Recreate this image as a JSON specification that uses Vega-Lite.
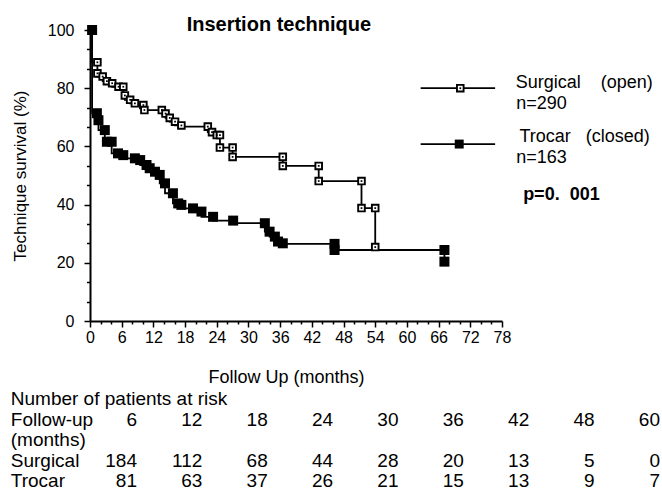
{
  "$schema": "https://vega.github.io/schema/vega-lite/v6.json",
  "width": 412,
  "height": 291,
  "autosize": {"type": "none"},
  "padding": {"left": 90, "top": 30, "right": 160, "bottom": 169},
  "background": "white",
  "config": {
    "view": {"stroke": null},
    "font": "Liberation Sans",
    "axis": {
      "domainColor": "black", "domainWidth": 2, "tickColor": "black", "tickWidth": 1.5,
      "labelColor": "black", "labelFont": "Liberation Sans", "labelFontSize": 16,
      "titleColor": "black", "titleFont": "Liberation Sans", "titleFontSize": 17, "titleFontWeight": "normal",
      "grid": false, "labelOverlap": false, "labelFlush": false, "labelBound": false
    },
    "text": {"font": "Liberation Sans", "color": "black"}
  },
  "datasets": {
    "km": [
      {"group": "Surgical", "t": 0.4, "s": 100},
      {"group": "Surgical", "t": 1.4, "s": 88.9},
      {"group": "Surgical", "t": 1.4, "s": 85.1},
      {"group": "Surgical", "t": 2.4, "s": 84.0},
      {"group": "Surgical", "t": 3.2, "s": 82.4},
      {"group": "Surgical", "t": 4.2, "s": 81.7},
      {"group": "Surgical", "t": 5.4, "s": 80.5},
      {"group": "Surgical", "t": 6.3, "s": 80.5},
      {"group": "Surgical", "t": 6.6, "s": 77.5},
      {"group": "Surgical", "t": 7.6, "s": 76.0},
      {"group": "Surgical", "t": 8.5, "s": 74.8},
      {"group": "Surgical", "t": 10.1, "s": 74.2},
      {"group": "Surgical", "t": 10.3, "s": 72.5},
      {"group": "Surgical", "t": 13.6, "s": 72.5},
      {"group": "Surgical", "t": 14.3, "s": 71.3},
      {"group": "Surgical", "t": 15.1, "s": 69.8},
      {"group": "Surgical", "t": 16.1, "s": 68.5},
      {"group": "Surgical", "t": 17.3, "s": 67.2},
      {"group": "Surgical", "t": 22.3, "s": 66.8},
      {"group": "Surgical", "t": 23.1, "s": 64.9},
      {"group": "Surgical", "t": 24.0, "s": 63.9},
      {"group": "Surgical", "t": 24.6, "s": 63.9},
      {"group": "Surgical", "t": 24.6, "s": 59.6},
      {"group": "Surgical", "t": 27.0, "s": 59.6},
      {"group": "Surgical", "t": 27.0, "s": 56.4},
      {"group": "Surgical", "t": 36.5, "s": 56.4},
      {"group": "Surgical", "t": 36.5, "s": 53.3},
      {"group": "Surgical", "t": 43.3, "s": 53.3},
      {"group": "Surgical", "t": 43.3, "s": 48.1},
      {"group": "Surgical", "t": 51.4, "s": 48.1},
      {"group": "Surgical", "t": 51.4, "s": 38.8},
      {"group": "Surgical", "t": 54.0, "s": 38.8},
      {"group": "Surgical", "t": 54.0, "s": 25.4},
      {"group": "Trocar", "t": 0.4, "s": 100},
      {"group": "Trocar", "t": 1.3, "s": 71.4},
      {"group": "Trocar", "t": 1.6, "s": 69.0},
      {"group": "Trocar", "t": 2.8, "s": 65.6},
      {"group": "Trocar", "t": 3.2, "s": 61.6},
      {"group": "Trocar", "t": 4.1, "s": 61.6},
      {"group": "Trocar", "t": 5.3, "s": 57.6},
      {"group": "Trocar", "t": 6.3, "s": 57.0},
      {"group": "Trocar", "t": 8.5, "s": 55.9},
      {"group": "Trocar", "t": 9.5, "s": 55.3},
      {"group": "Trocar", "t": 10.7, "s": 53.6},
      {"group": "Trocar", "t": 11.3, "s": 52.5},
      {"group": "Trocar", "t": 12.3, "s": 51.3},
      {"group": "Trocar", "t": 13.2, "s": 50.2},
      {"group": "Trocar", "t": 14.2, "s": 47.3},
      {"group": "Trocar", "t": 15.7, "s": 43.9},
      {"group": "Trocar", "t": 16.7, "s": 40.4},
      {"group": "Trocar", "t": 17.3, "s": 39.9},
      {"group": "Trocar", "t": 19.5, "s": 38.7},
      {"group": "Trocar", "t": 21.1, "s": 37.6},
      {"group": "Trocar", "t": 23.3, "s": 35.8},
      {"group": "Trocar", "t": 27.1, "s": 34.5},
      {"group": "Trocar", "t": 33.1, "s": 33.6},
      {"group": "Trocar", "t": 34.0, "s": 30.7},
      {"group": "Trocar", "t": 35.0, "s": 29.0},
      {"group": "Trocar", "t": 35.6, "s": 27.3},
      {"group": "Trocar", "t": 36.5, "s": 26.7},
      {"group": "Trocar", "t": 46.3, "s": 26.5},
      {"group": "Trocar", "t": 46.3, "s": 24.4},
      {"group": "Trocar", "t": 67.1, "s": 24.4},
      {"group": "Trocar", "t": 67.1, "s": 20.4}
    ],
    "risk": [
      {"fu": 6, "surgical": 184, "trocar": 81},
      {"fu": 12, "surgical": 112, "trocar": 63},
      {"fu": 18, "surgical": 68, "trocar": 37},
      {"fu": 24, "surgical": 44, "trocar": 26},
      {"fu": 30, "surgical": 28, "trocar": 21},
      {"fu": 36, "surgical": 20, "trocar": 15},
      {"fu": 42, "surgical": 13, "trocar": 13},
      {"fu": 48, "surgical": 5, "trocar": 9},
      {"fu": 60, "surgical": 0, "trocar": 7}
    ],
    "one": [{"k": 1}]
  },
  "layer": [
    {
      "resolve": {"axis": {"x": "independent", "y": "independent"}},
      "layer": [
        {
          "data": {"name": "km"},
          "mark": {"type": "line", "interpolate": "step-before", "color": "black", "strokeWidth": 1.8},
          "encoding": {
            "x": {
              "field": "t", "type": "quantitative",
              "scale": {"domain": [0, 78], "nice": false, "zero": false},
              "axis": {
                "title": "Follow Up (months)",
                "values": [0,2,4,6,8,10,12,14,16,18,20,22,24,26,28,30,32,34,36,38,40,42,44,46,48,50,52,54,56,58,60,62,64,66,68,70,72,74,76,78],
                "labelExpr": "datum.value % 6 === 0 ? datum.label : ''",
                "tickSize": {"condition": {"test": "datum.value % 6 === 0", "value": 6}, "value": 3},
                "labelPadding": 2, "labelOverlap": false, "orient": "bottom",
                "titleFontSize": 18,
                "titleX": 196, "titleY": 61, "titleBaseline": "alphabetic", "titleAlign": "center"
              }
            },
            "y": {
              "field": "s", "type": "quantitative",
              "scale": {"domain": [0, 100], "nice": false, "zero": false},
              "axis": {
                "title": "Technique survival (%)",
                "values": [0,6.6667,13.3333,20,26.6667,33.3333,40,46.6667,53.3333,60,66.6667,73.3333,80,86.6667,93.3333,100],
                "labelExpr": "round(datum.value) % 20 === 0 ? datum.label : ''",
                "tickSize": {"condition": {"test": "round(datum.value) % 20 === 0", "value": 6}, "value": 3.5},
                "labelPadding": 10, "labelOverlap": false, "orient": "left",
                "titleX": -70, "titleY": 145.5, "titleAngle": -90, "titleBaseline": "middle", "titleAlign": "center"
              }
            },
            "detail": {"field": "group"}
          }
        },
        {
          "data": {"name": "km"},
          "transform": [{"filter": "datum.group === 'Surgical'"}],
          "mark": {"type": "point", "shape": "square", "filled": true, "fill": "white", "stroke": "black", "strokeWidth": 1.9, "size": 44, "opacity": 1},
          "encoding": {"x": {"field": "t", "type": "quantitative", "axis": null}, "y": {"field": "s", "type": "quantitative", "axis": null}}
        },
        {
          "data": {"name": "km"},
          "transform": [{"filter": "datum.group === 'Surgical'"}],
          "mark": {"type": "point", "shape": "square", "filled": true, "color": "black", "size": 3, "opacity": 1},
          "encoding": {"x": {"field": "t", "type": "quantitative", "axis": null}, "y": {"field": "s", "type": "quantitative", "axis": null}}
        },
        {
          "data": {"name": "km"},
          "transform": [{"filter": "datum.group === 'Trocar'"}],
          "mark": {"type": "point", "shape": "square", "filled": true, "color": "black", "size": 100, "opacity": 1},
          "encoding": {"x": {"field": "t", "type": "quantitative", "axis": null}, "y": {"field": "s", "type": "quantitative", "axis": null}}
        },
        {
          "data": {"name": "one"},
          "mark": {"type": "rule", "color": "black", "strokeWidth": 1.8},
          "encoding": {"x": {"datum": 62.6, "type": "quantitative", "axis": null}, "x2": {"datum": 76.7}, "y": {"datum": 80.0, "type": "quantitative", "axis": null}}
        },
        {
          "data": {"name": "one"},
          "mark": {"type": "rule", "color": "black", "strokeWidth": 1.8},
          "encoding": {"x": {"datum": 62.6, "type": "quantitative", "axis": null}, "x2": {"datum": 76.7}, "y": {"datum": 60.8, "type": "quantitative", "axis": null}}
        },
        {
          "data": {"name": "one"},
          "mark": {"type": "point", "shape": "square", "filled": true, "fill": "white", "stroke": "black", "strokeWidth": 1.9, "size": 44, "opacity": 1},
          "encoding": {"x": {"datum": 70.1, "type": "quantitative", "axis": null}, "y": {"datum": 80.0, "type": "quantitative", "axis": null}}
        },
        {
          "data": {"name": "one"},
          "mark": {"type": "point", "shape": "square", "filled": true, "color": "black", "size": 3, "opacity": 1},
          "encoding": {"x": {"datum": 70.1, "type": "quantitative", "axis": null}, "y": {"datum": 80.0, "type": "quantitative", "axis": null}}
        },
        {
          "data": {"name": "one"},
          "mark": {"type": "point", "shape": "square", "filled": true, "color": "black", "size": 80, "opacity": 1},
          "encoding": {"x": {"datum": 69.9, "type": "quantitative", "axis": null}, "y": {"datum": 60.8, "type": "quantitative", "axis": null}}
        },
        {
          "data": {"name": "one"},
          "mark": {"type": "text", "text": "Surgical\u00a0\u00a0\u00a0\u00a0(open)", "align": "left", "baseline": "alphabetic", "fontSize": 18},
          "encoding": {"x": {"datum": 80.6, "type": "quantitative", "axis": null}, "y": {"datum": 80.1, "type": "quantitative", "axis": null}}
        },
        {
          "data": {"name": "one"},
          "mark": {"type": "text", "text": "n=290", "align": "left", "baseline": "alphabetic", "fontSize": 18},
          "encoding": {"x": {"datum": 80.7, "type": "quantitative", "axis": null}, "y": {"datum": 72.9, "type": "quantitative", "axis": null}}
        },
        {
          "data": {"name": "one"},
          "mark": {"type": "text", "text": "Trocar\u00a0\u00a0\u00a0(closed)", "align": "left", "baseline": "alphabetic", "fontSize": 18},
          "encoding": {"x": {"datum": 81.3, "type": "quantitative", "axis": null}, "y": {"datum": 61.6, "type": "quantitative", "axis": null}}
        },
        {
          "data": {"name": "one"},
          "mark": {"type": "text", "text": "n=163", "align": "left", "baseline": "alphabetic", "fontSize": 18},
          "encoding": {"x": {"datum": 80.7, "type": "quantitative", "axis": null}, "y": {"datum": 54.2, "type": "quantitative", "axis": null}}
        },
        {
          "data": {"name": "one"},
          "mark": {"type": "text", "text": "p=0.\u00a0 001", "align": "left", "baseline": "alphabetic", "fontSize": 18, "fontWeight": "bold"},
          "encoding": {"x": {"datum": 82.0, "type": "quantitative", "axis": null}, "y": {"datum": 41.6, "type": "quantitative", "axis": null}}
        },
        {
          "data": {"name": "one"},
          "mark": {"type": "text", "text": "Insertion technique", "align": "left", "baseline": "alphabetic", "fontSize": 20, "fontWeight": "bold"},
          "encoding": {"x": {"datum": 18.3, "type": "quantitative", "axis": null}, "y": {"datum": 99.5, "type": "quantitative", "axis": null}}
        },
        {
          "data": {"name": "one"},
          "mark": {"type": "text", "text": "Number of patients at risk", "align": "left", "baseline": "middle", "fontSize": 19},
          "encoding": {"x": {"datum": -15.0, "type": "quantitative", "axis": null}, "y": {"datum": -26.8, "type": "quantitative", "axis": null}}
        },
        {
          "data": {"name": "one"},
          "mark": {"type": "text", "text": "Follow-up", "align": "left", "baseline": "middle", "fontSize": 19},
          "encoding": {"x": {"datum": -15.0, "type": "quantitative", "axis": null}, "y": {"datum": -34.0, "type": "quantitative", "axis": null}}
        },
        {
          "data": {"name": "one"},
          "mark": {"type": "text", "text": "(months)", "align": "left", "baseline": "middle", "fontSize": 19},
          "encoding": {"x": {"datum": -15.0, "type": "quantitative", "axis": null}, "y": {"datum": -40.9, "type": "quantitative", "axis": null}}
        },
        {
          "data": {"name": "one"},
          "mark": {"type": "text", "text": "Surgical", "align": "left", "baseline": "middle", "fontSize": 19},
          "encoding": {"x": {"datum": -15.0, "type": "quantitative", "axis": null}, "y": {"datum": -48.1, "type": "quantitative", "axis": null}}
        },
        {
          "data": {"name": "one"},
          "mark": {"type": "text", "text": "Trocar", "align": "left", "baseline": "middle", "fontSize": 19},
          "encoding": {"x": {"datum": -15.0, "type": "quantitative", "axis": null}, "y": {"datum": -55.0, "type": "quantitative", "axis": null}}
        }
      ]
    },
    {
      "data": {"name": "risk"},
      "encoding": {
        "x": {"field": "fu", "type": "ordinal", "scale": {"type": "point", "range": [47, 570], "padding": 0}, "axis": null}
      },
      "layer": [
        {
          "mark": {"type": "text", "align": "right", "baseline": "middle", "fontSize": 19},
          "encoding": {"text": {"field": "fu", "type": "nominal"}, "y": {"datum": -34.0, "type": "quantitative", "axis": null}}
        },
        {
          "mark": {"type": "text", "align": "right", "baseline": "middle", "fontSize": 19},
          "encoding": {"text": {"field": "surgical", "type": "nominal"}, "y": {"datum": -48.1, "type": "quantitative", "axis": null}}
        },
        {
          "mark": {"type": "text", "align": "right", "baseline": "middle", "fontSize": 19},
          "encoding": {"text": {"field": "trocar", "type": "nominal"}, "y": {"datum": -55.0, "type": "quantitative", "axis": null}}
        }
      ]
    }
  ],
  "resolve": {"scale": {"x": "independent"}, "axis": {"y": "independent"}}
}
